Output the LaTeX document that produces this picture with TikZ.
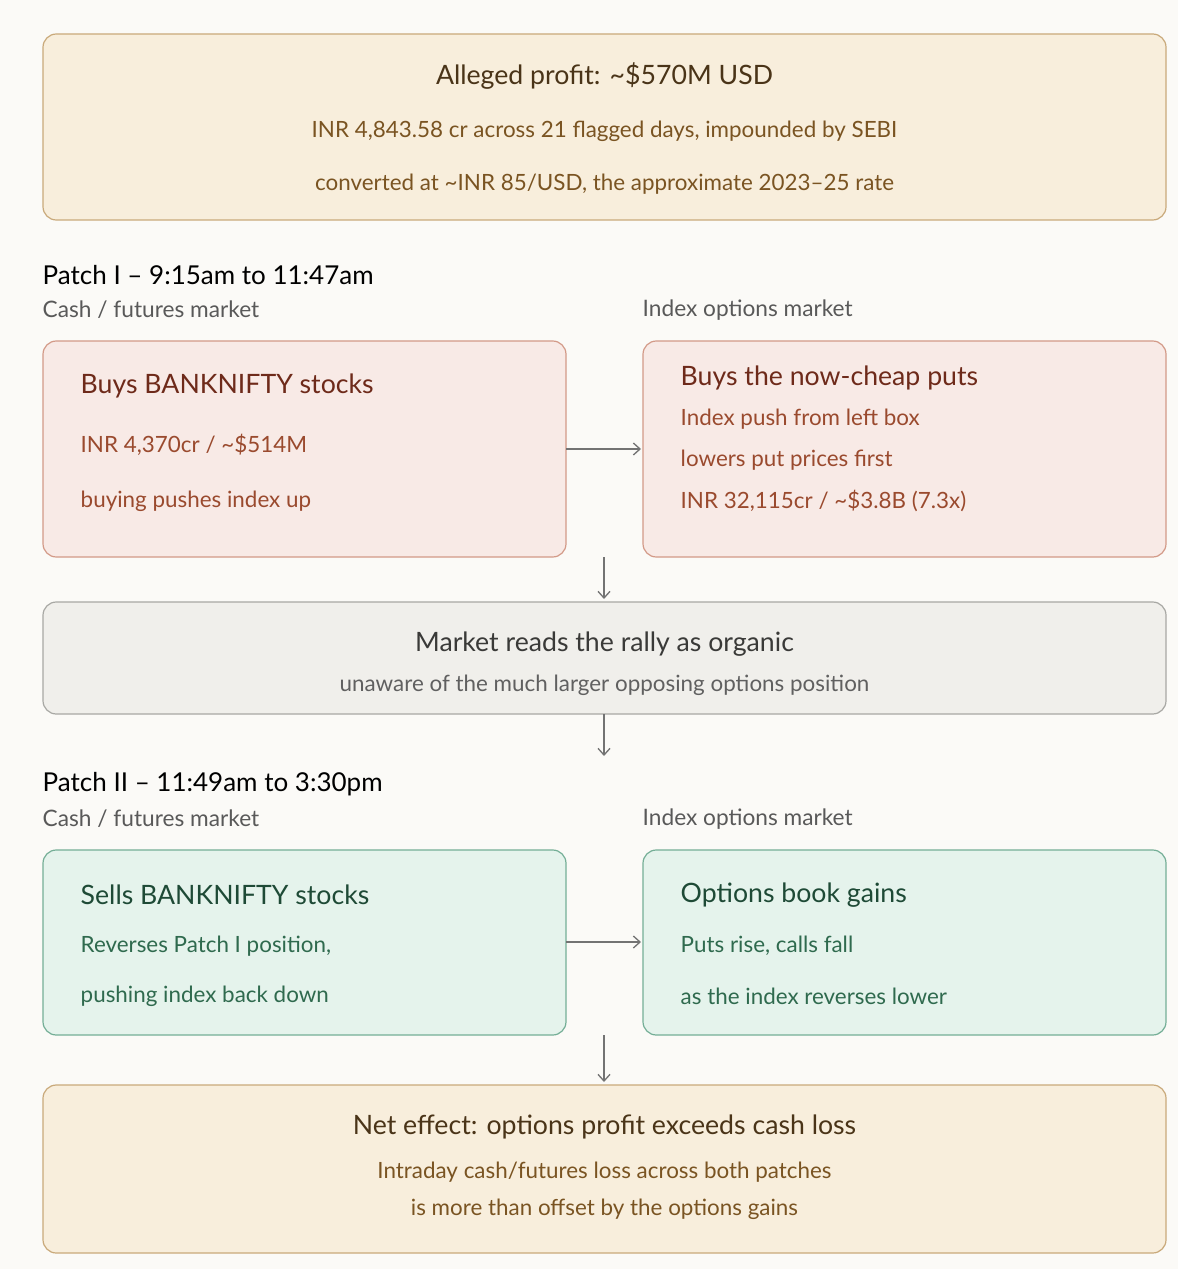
\documentclass[tikz,border=0pt]{standalone}
\usepackage{fontspec}
\setmainfont{Lato}
\usetikzlibrary{arrows.meta}
\definecolor{bg}{HTML}{FBFAF7}
\definecolor{tanF}{HTML}{F8EEDC}\definecolor{tanD}{HTML}{C9A97A}\definecolor{tanT}{HTML}{4A3418}\definecolor{tanS}{HTML}{7A5422}
\definecolor{redF}{HTML}{F8EAE6}\definecolor{redD}{HTML}{D39A88}\definecolor{redT}{HTML}{6E2A1A}\definecolor{redS}{HTML}{9A4A2E}
\definecolor{grF}{HTML}{F0EFEB}\definecolor{grD}{HTML}{A8A8A4}\definecolor{grT}{HTML}{3A3A38}\definecolor{grS}{HTML}{606060}
\definecolor{gnF}{HTML}{E5F3EC}\definecolor{gnD}{HTML}{74AE96}\definecolor{gnT}{HTML}{1E4A36}\definecolor{gnS}{HTML}{2F6A4E}
\tikzset{
 box/.style={draw=#1D,fill=#1F,rounded corners=10pt,line width=0.9pt},
 ttl/.style={font=\fontsize{20}{22}\selectfont},
 sub/.style={font=\fontsize{16.8}{19}\selectfont},
 hd/.style={anchor=west,font=\fontsize{19.5}{21}\selectfont,text=black},
 lb/.style={anchor=west,font=\fontsize{17}{19}\selectfont,text=black!65},
 arr/.style={draw=black!55,line width=1pt,-{Straight Barb[length=5pt,width=9pt]}}
}
\begin{document}
\begin{tikzpicture}[x=0.75pt,y=-0.75pt]
\fill[bg] (0,0) rectangle (1178,1269);
\path[use as bounding box] (0,0) rectangle (1178,1269);
% top
\draw[box=tan] (43,34) rectangle (1166,220);
\node[ttl,text=tanT] (t1) at (604.5,76) {Alleged profit: \textasciitilde\$570M USD};
\node[sub,text=tanS] (t2) at (604.5,131) {INR 4,843.58 cr across 21 flagged days, impounded by SEBI};
\node[sub,text=tanS] (t3) at (604.5,184) {converted at \textasciitilde INR 85/USD, the approximate 2023–25 rate};
% patch I
\node[hd] (p1) at (38,275) {Patch I – 9:15am to 11:47am};
\node[lb] (c1) at (38,310) {Cash / futures market};
\node[lb] (o1) at (638,310) {Index options market};
\draw[box=red] (43,341) rectangle (566,557);
\draw[box=red] (643,341) rectangle (1166,557);
\coordinate (L1e) at (566,449); \coordinate (R1w) at (641,449);
\node[ttl,text=redT,anchor=west] (a1) at (76,386) {Buys BANKNIFTY stocks};
\node[sub,text=redS,anchor=west] (a2) at (76,445) {INR 4,370cr / \textasciitilde\$514M};
\node[sub,text=redS,anchor=west] (a3) at (76,501) {buying pushes index up};
\node[ttl,text=redT,anchor=west] (b1) at (676,378) {Buys the now-cheap puts};
\node[sub,text=redS,anchor=west] (b2) at (676,419) {Index push from left box};
\node[sub,text=redS,anchor=west] (b3) at (676,460) {lowers put prices first};
\node[sub,text=redS,anchor=west] (b4) at (676,501) {INR 32,115cr / \textasciitilde\$3.8B (7.3x)};
\draw[arr] (L1e) -- (R1w);
% gray
\coordinate (v1a) at (604,557); \coordinate (v1b) at (604,599);
\draw[arr] (v1a) -- (v1b);
\draw[box=gr] (43,602) rectangle (1166,714);
\node[ttl,text=grT] (g1) at (604.5,644) {Market reads the rally as organic};
\node[sub,text=grS] (g2) at (604.5,685) {unaware of the much larger opposing options position};
\coordinate (v2a) at (604,714); \coordinate (v2b) at (604,756);
\draw[arr] (v2a) -- (v2b);
% patch II
\node[hd] (p2) at (38,784) {Patch II – 11:49am to 3:30pm};
\node[lb] (c2) at (38,819) {Cash / futures market};
\node[lb] (o2) at (638,819) {Index options market};
\draw[box=gn] (43,850) rectangle (566,1035);
\draw[box=gn] (643,850) rectangle (1166,1035);
\coordinate (L2e) at (566,942); \coordinate (R2w) at (641,942);
\draw[arr] (L2e) -- (R2w);
\node[ttl,text=gnT,anchor=west] (d1) at (76,895) {Sells BANKNIFTY stocks};
\node[sub,text=gnS,anchor=west] (d2) at (76,946) {Reverses Patch I position,};
\node[sub,text=gnS,anchor=west] (d3) at (76,996) {pushing index back down};
\node[ttl,text=gnT,anchor=west] (e1) at (676,895) {Options book gains};
\node[sub,text=gnS,anchor=west] (e2) at (676,946) {Puts rise, calls fall};
\node[sub,text=gnS,anchor=west] (e3) at (676,996) {as the index reverses lower};
\coordinate (v3a) at (604,1035); \coordinate (v3b) at (604,1082);
\draw[arr] (v3a) -- (v3b);
% bottom
\draw[box=tan] (43,1085) rectangle (1166,1253);
\node[ttl,text=tanT] (n1) at (604.5,1127) {Net effect: options profit exceeds cash loss};
\node[sub,text=tanS] (n2) at (604.5,1172) {Intraday cash/futures loss across both patches};
\node[sub,text=tanS] (n3) at (604.5,1209) {is more than offset by the options gains};
\end{tikzpicture}
\end{document}
